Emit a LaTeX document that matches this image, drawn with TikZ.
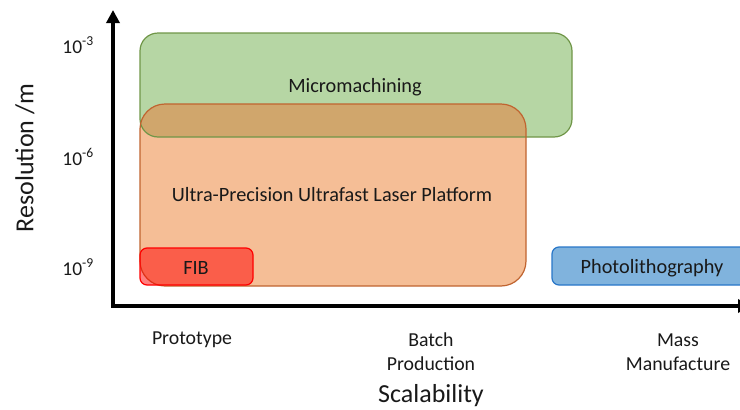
\documentclass[tikz,border=0pt]{standalone}
\usepackage{fontspec}
\setmainfont{Carlito}
\usetikzlibrary{arrows.meta}
\definecolor{greenfill}{RGB}{182,214,164}
\definecolor{greenline}{RGB}{112,150,72}
\definecolor{orangefill}{RGB}{245,190,150}
\definecolor{orangeline}{RGB}{192,100,48}
\definecolor{overlapfill}{RGB}{208,166,108}
\definecolor{bluefill}{RGB}{128,179,221}
\definecolor{blueline}{RGB}{40,118,200}
\definecolor{txt}{RGB}{25,25,25}
\tikzset{
  boxlabel/.style={text=txt, font=\fontsize{20.3}{24}\selectfont, inner sep=0pt},
  ticklabel/.style={text=txt, font=\fontsize{19.5}{22}\selectfont, inner sep=0pt, anchor=east},
  catlabel/.style={text=txt, font=\fontsize{19.8}{24}\selectfont, inner sep=0pt, align=center},
  axistitle/.style={text=txt, font=\fontsize{26}{30}\selectfont, inner sep=0pt},
  axisline/.style={line width=4pt, -{Triangle[length=13pt,width=13pt]}},
}
\begin{document}
\begin{tikzpicture}[x=1pt,y=-1pt]
\useasboundingbox (0,0) rectangle (740,410);
% box corners
\coordinate (gsw) at (140,137); \coordinate (gne) at (572,33);
\coordinate (osw) at (140,286); \coordinate (one) at (526,104);
\coordinate (fsw) at (140,285); \coordinate (fne) at (253,248);
\coordinate (psw) at (552,285); \coordinate (pne) at (760,247);
% green
\fill[greenfill, rounded corners=18pt] (gsw) rectangle (gne);
% orange
\fill[orangefill, rounded corners=25pt] (osw) rectangle (one);
% overlap
\begin{scope}
  \clip[rounded corners=18pt] (gsw) rectangle (gne);
  \fill[overlapfill, rounded corners=25pt] (osw) rectangle (one);
\end{scope}
\draw[greenline, line width=1.2pt, rounded corners=18pt] (gsw) rectangle (gne);
\draw[orangeline, line width=1.2pt, rounded corners=25pt] (osw) rectangle (one);
% FIB
\fill[red, fill opacity=0.5, rounded corners=7pt] (fsw) rectangle (fne);
\draw[red, line width=1.2pt, rounded corners=7pt] (fsw) rectangle (fne);
% Photolithography
\fill[bluefill, rounded corners=7pt] (psw) rectangle (pne);
\draw[blueline, line width=1.2pt, rounded corners=7pt] (psw) rectangle (pne);
% axes
\coordinate (origin) at (113,306);
\coordinate (ytop) at (113,10);
\coordinate (xend) at (751,306);
\draw[axisline] ([yshift=2pt]origin) -- (ytop);
\draw[axisline] ([xshift=-2pt]origin) -- (xend);
% box labels
\node[boxlabel] (micro) at (355,87) {Micromachining};
\node[boxlabel] (ultra) at (332,195) {Ultra-Precision Ultrafast Laser Platform};
\node[boxlabel] (fib) at (196,268) {FIB};
\node[boxlabel] (photo) at (652,268) {Photolithography};
% tick labels
\node[ticklabel] (t3) at (94,45) {10\textsuperscript{-3}};
\node[ticklabel] (t6) at (94,157) {10\textsuperscript{-6}};
\node[ticklabel] (t9) at (94,267) {10\textsuperscript{-9}};
% categories
\node[catlabel] (proto) at (192,340) {Prototype};
\node[catlabel] (batch) at (431,352) {Batch\\Production};
\node[catlabel] (mass) at (678,352) {Mass\\Manufacture};
% axis titles
\node[axistitle] (scal) at (431,396) {Scalability};
\node[axistitle, rotate=90] (res) at (25,158) {Resolution /m};
\end{tikzpicture}
\end{document}
